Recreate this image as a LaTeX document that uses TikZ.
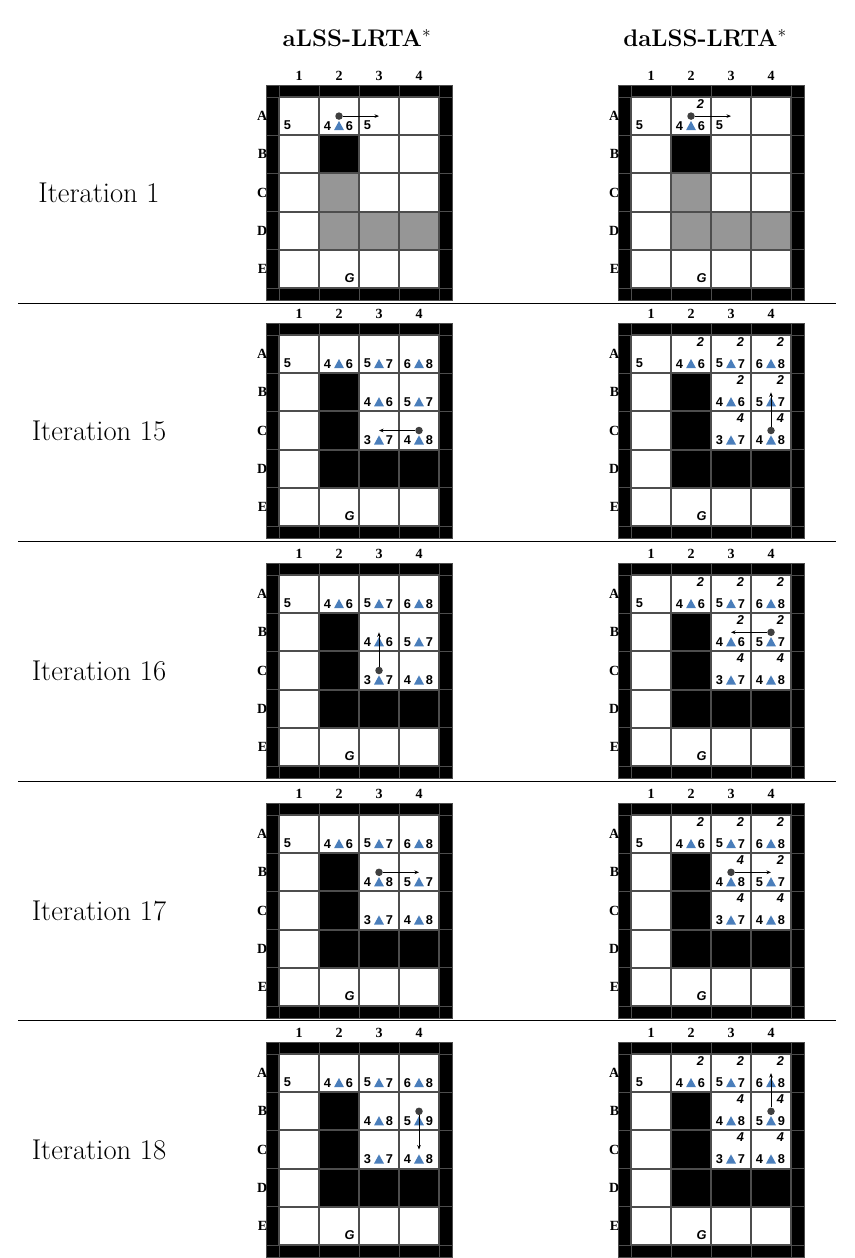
\documentclass[tikz,border=0pt]{standalone}
\usepackage{fontspec}
\usepackage{tikz}
\usetikzlibrary{arrows.meta}
\newfontfamily\cellfont{Liberation Sans}
\newfontfamily\labelfont{Liberation Serif}
\definecolor{mazeGray}{HTML}{969696}
\definecolor{mazeLine}{HTML}{4D4D4D}
\definecolor{mazeBlue}{HTML}{4A7EBB}
\definecolor{agentGray}{HTML}{3F3F3F}

\tikzset{
  gridline/.style={draw=mazeLine, line width=1.9pt},
  wallline/.style={draw=mazeLine, line width=0.8pt},
  cellnum/.style={inner sep=0pt, font=\cellfont\bfseries\fontsize{12.8}{13}\selectfont},
  cellhint/.style={inner sep=0pt, font=\cellfont\bfseries\itshape\fontsize{12.8}{13}\selectfont},
  axislabel/.style={inner sep=0pt, font=\labelfont\bfseries\fontsize{14}{15}\selectfont},
  agent/.style={circle, fill=agentGray, inner sep=0pt, minimum size=7.5pt},
  movearrow/.style={-{Stealth[length=4.5pt,width=3.6pt]}, line width=0.8pt},
  itlabel/.style={font=\fontsize{28.6}{32}\selectfont},
  head/.style={font=\bfseries\fontsize{24}{28}\selectfont},
  rule/.style={line width=0.9pt}
}

% cell (c,r): centre at (40c-7, 38.2r-7.1) inside a maze scope
\newcommand{\lval}[3]{\node[cellnum] (\mz-#1#2l) at ({40*#1-18.5},{38.2*#2+2.4}) {#3};}
\newcommand{\hval}[4]{%
  \node[cellnum] (\mz-#1#2l) at ({40*#1-18.5},{38.2*#2+2.4}) {#3};
  \fill[mazeBlue] ({40*#1-12},{38.2*#2+7}) -- ({40*#1-2},{38.2*#2+7}) -- ({40*#1-7},{38.2*#2-2.2}) -- cycle;
  \node[cellnum] (\mz-#1#2r) at ({40*#1+3.5},{38.2*#2+2.4}) {#4};}
\newcommand{\hcost}[3]{\node[cellhint] (\mz-#1#2t) at ({40*#1+2.5},{38.2*#2-19.1}) {#3};}
\newcommand{\goalmark}[2]{\node[cellhint] (\mz-goal) at ({40*#1+3.5},{38.2*#2+2.4}) {G};}
\newcommand{\agentmove}[4]{%
  \node[agent] (\mz-agent) at ({40*#1-7},{38.2*#2-7.1}) {};
  \coordinate (\mz-next) at ({40*#3-7},{38.2*#4-7.1});
  \draw[movearrow] (\mz-agent) -- (\mz-next);}

% #1 name, #2 #3 top left corner, #4 colour of C2 and row D, #5 contents
\newcommand{\maze}[5]{%
  \begin{scope}[shift={(#2,#3)}]
    \def\mz{#1}
    \fill[black] (0,0) rectangle (186,215);
    \fill[white] (13,12) rectangle (173,203);
    \fill[black] (53,50.2) rectangle (93,88.4);
    \fill[#4] (53,88.4) rectangle (93,126.6);
    \fill[#4] (53,126.6) rectangle (173,164.8);
    \foreach \c in {0,...,4} \draw[wallline] ({13+40*\c},0) -- ({13+40*\c},215);
    \foreach \r in {0,...,5} \draw[wallline] (0,{12+38.2*\r}) -- (186,{12+38.2*\r});
    \foreach \c in {0,...,4} \draw[gridline] ({13+40*\c},12) -- ({13+40*\c},203);
    \foreach \r in {0,...,5} \draw[gridline] (13,{12+38.2*\r}) -- (173,{12+38.2*\r});
    \draw[wallline] (0,0) rectangle (186,215);
    \foreach \c in {1,...,4} \node[axislabel] (#1-col\c) at ({40*\c-7},-9) {\c};
    \foreach \r/\l in {1/A,2/B,3/C,4/D,5/E}
      \node[axislabel, anchor=east] (#1-row\l) at (1.5,{38.2*\r-7.1}) {\l};
    #5
  \end{scope}}

\begin{document}
\begin{tikzpicture}[x=1pt, y=-1pt]
  \useasboundingbox (0,0) rectangle (854,1258);
  \node[head] (leftHead) at (357,38) {aLSS-LRTA$^{*}$};
  \node[head] (rightHead) at (705,38) {daLSS-LRTA$^{*}$};

  \foreach \y in {303,541.5,781,1020} \draw[rule] (18,\y) -- (836,\y);

  \node[itlabel] (it1) at (99,192.5) {Iteration 1};
  \node[itlabel] (it15) at (99,430.5) {Iteration 15};
  \node[itlabel] (it16) at (99,670.5) {Iteration 16};
  \node[itlabel] (it17) at (99,910.5) {Iteration 17};
  \node[itlabel] (it18) at (99,1149.5) {Iteration 18};

  % iteration 1
  \maze{L1}{266}{85}{mazeGray}{\lval{1}{1}{5}\hval{2}{1}{4}{6}\lval{3}{1}{5}\goalmark{2}{5}
    \agentmove{2}{1}{3}{1}}
  \maze{R1}{618}{85}{mazeGray}{\lval{1}{1}{5}\hval{2}{1}{4}{6}\hcost{2}{1}{2}\lval{3}{1}{5}\goalmark{2}{5}
    \agentmove{2}{1}{3}{1}}

  % iteration 15
  \maze{L15}{266}{323}{black}{\lval{1}{1}{5}\hval{2}{1}{4}{6}\hval{3}{1}{5}{7}\hval{4}{1}{6}{8}
    \hval{3}{2}{4}{6}\hval{4}{2}{5}{7}\hval{3}{3}{3}{7}\hval{4}{3}{4}{8}\goalmark{2}{5}
    \agentmove{4}{3}{3}{3}}
  \maze{R15}{618}{323}{black}{\lval{1}{1}{5}\hval{2}{1}{4}{6}\hval{3}{1}{5}{7}\hval{4}{1}{6}{8}
    \hval{3}{2}{4}{6}\hval{4}{2}{5}{7}\hval{3}{3}{3}{7}\hval{4}{3}{4}{8}\goalmark{2}{5}
    \hcost{2}{1}{2}\hcost{3}{1}{2}\hcost{4}{1}{2}\hcost{3}{2}{2}\hcost{4}{2}{2}\hcost{3}{3}{4}\hcost{4}{3}{4}
    \agentmove{4}{3}{4}{2}}

  % iteration 16
  \maze{L16}{266}{563}{black}{\lval{1}{1}{5}\hval{2}{1}{4}{6}\hval{3}{1}{5}{7}\hval{4}{1}{6}{8}
    \hval{3}{2}{4}{6}\hval{4}{2}{5}{7}\hval{3}{3}{3}{7}\hval{4}{3}{4}{8}\goalmark{2}{5}
    \agentmove{3}{3}{3}{2}}
  \maze{R16}{618}{563}{black}{\lval{1}{1}{5}\hval{2}{1}{4}{6}\hval{3}{1}{5}{7}\hval{4}{1}{6}{8}
    \hval{3}{2}{4}{6}\hval{4}{2}{5}{7}\hval{3}{3}{3}{7}\hval{4}{3}{4}{8}\goalmark{2}{5}
    \hcost{2}{1}{2}\hcost{3}{1}{2}\hcost{4}{1}{2}\hcost{3}{2}{2}\hcost{4}{2}{2}\hcost{3}{3}{4}\hcost{4}{3}{4}
    \agentmove{4}{2}{3}{2}}

  % iteration 17
  \maze{L17}{266}{803}{black}{\lval{1}{1}{5}\hval{2}{1}{4}{6}\hval{3}{1}{5}{7}\hval{4}{1}{6}{8}
    \hval{3}{2}{4}{8}\hval{4}{2}{5}{7}\hval{3}{3}{3}{7}\hval{4}{3}{4}{8}\goalmark{2}{5}
    \agentmove{3}{2}{4}{2}}
  \maze{R17}{618}{803}{black}{\lval{1}{1}{5}\hval{2}{1}{4}{6}\hval{3}{1}{5}{7}\hval{4}{1}{6}{8}
    \hval{3}{2}{4}{8}\hval{4}{2}{5}{7}\hval{3}{3}{3}{7}\hval{4}{3}{4}{8}\goalmark{2}{5}
    \hcost{2}{1}{2}\hcost{3}{1}{2}\hcost{4}{1}{2}\hcost{3}{2}{4}\hcost{4}{2}{2}\hcost{3}{3}{4}\hcost{4}{3}{4}
    \agentmove{3}{2}{4}{2}}

  % iteration 18
  \maze{L18}{266}{1042}{black}{\lval{1}{1}{5}\hval{2}{1}{4}{6}\hval{3}{1}{5}{7}\hval{4}{1}{6}{8}
    \hval{3}{2}{4}{8}\hval{4}{2}{5}{9}\hval{3}{3}{3}{7}\hval{4}{3}{4}{8}\goalmark{2}{5}
    \agentmove{4}{2}{4}{3}}
  \maze{R18}{618}{1042}{black}{\lval{1}{1}{5}\hval{2}{1}{4}{6}\hval{3}{1}{5}{7}\hval{4}{1}{6}{8}
    \hval{3}{2}{4}{8}\hval{4}{2}{5}{9}\hval{3}{3}{3}{7}\hval{4}{3}{4}{8}\goalmark{2}{5}
    \hcost{2}{1}{2}\hcost{3}{1}{2}\hcost{4}{1}{2}\hcost{3}{2}{4}\hcost{4}{2}{4}\hcost{3}{3}{4}\hcost{4}{3}{4}
    \agentmove{4}{2}{4}{1}}
\end{tikzpicture}
\end{document}
